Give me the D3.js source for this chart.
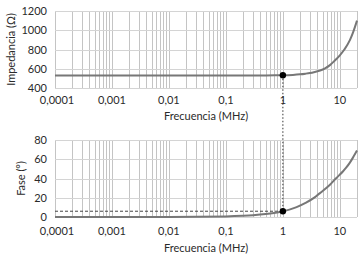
<!DOCTYPE html>
<html><head><meta charset="utf-8">
<script src="https://cdn.jsdelivr.net/npm/d3@7"></script>
<style>body{margin:0;background:#fff;}svg{display:block;font-family:Lato,"Open Sans",sans-serif;}</style>
</head><body>
<svg id="c" width="363" height="255"></svg>
<script>
// Data
const freqMHz = [0.0001, 0.001, 0.01, 0.1, 0.5, 1, 1.5, 2, 2.5, 3, 3.5, 4.5, 5.5, 6.7, 8, 10, 12, 15, 17, 20];
const impedance = [530, 530, 530, 530, 531, 532, 536, 542, 549, 556, 564, 582, 605, 638, 680, 740, 800, 897, 975, 1100];
const phaseFreq = [0.0001, 0.001, 0.01, 0.1, 0.2, 0.3, 0.5, 0.7, 1, 1.3, 1.74, 2.5, 3.4, 4.2, 5, 6.7, 8.5, 11.4, 13, 15, 17.5, 20];
const phase = [0, 0, 0.1, 0.6, 1.2, 1.8, 3, 4.2, 6, 7.7, 10.3, 14.7, 19.3, 23.5, 27, 33.5, 40, 47.5, 51.5, 56.5, 63, 69];
const markerFreq = 1;
const markerZ = 532;
const markerPhase = 6;
const xTickVals = [0.0001, 0.001, 0.01, 0.1, 1, 10];
const xTickLabels = ["0,0001", "0,001", "0,01", "0,1", "1", "10"];
const zTicks = [400, 600, 800, 1000, 1200];
const phTicks = [0, 20, 40, 60, 80];

const svg = d3.select("#c");
const x = d3.scaleLog().domain([0.0001, 20]).range([55, 357]);
const yZ = d3.scaleLinear().domain([400, 1200]).range([88, 11]);
const yP = d3.scaleLinear().domain([0, 80]).range([217, 140]);

// minor grid values
const minor = [];
for (let e = -4; e <= 1; e++) for (let m = 1; m <= 9; m++) { const v = m * Math.pow(10, e); if (v <= 20.0001) minor.push(v); }
minor.push(20);

function panel(y, yTicks, title, titleX, xTitleY, xLabelY) {
  const g = svg.append("g");
  const [y0, y1] = y.range();
  g.selectAll(".vg").data(minor).join("line")
    .attr("x1", d => Math.round(x(d)) + 0.5).attr("x2", d => Math.round(x(d)) + 0.5)
    .attr("y1", y1).attr("y2", y0).attr("stroke", "#c4c4c4").attr("stroke-width", 1);
  g.selectAll(".hg").data(yTicks).join("line")
    .attr("x1", x.range()[0]).attr("x2", x.range()[1])
    .attr("y1", d => Math.round(y(d)) + 0.5).attr("y2", d => Math.round(y(d)) + 0.5)
    .attr("stroke", "#d4d4d4").attr("stroke-width", 1);
  g.selectAll(".yl").data(yTicks).join("text")
    .attr("x", 47).attr("y", d => y(d) + 4).attr("text-anchor", "end")
    .attr("font-size", 11).attr("fill", "#2a2a2a").text(d => d);
  g.selectAll(".xl").data(xTickVals).join("text")
    .attr("x", (d, i) => x(d) + (i === 0 ? 2 : 0)).attr("y", xLabelY).attr("text-anchor", "middle")
    .attr("font-size", 11).attr("fill", "#2a2a2a").text((d, i) => xTickLabels[i]);
  g.append("text").attr("x", 206).attr("y", xTitleY).attr("text-anchor", "middle")
    .attr("font-size", 11).attr("fill", "#2a2a2a").text("Frecuencia (MHz)");
  g.append("text").attr("transform", `translate(${titleX},${(y0 + y1) / 2}) rotate(-90)`)
    .attr("text-anchor", "middle").attr("font-size", 11).attr("fill", "#2a2a2a").text(title);
  return g;
}

panel(yZ, zTicks, "Impedancia (Ω)", 15, 120, 104);
panel(yP, phTicks, "Fase (°)", 25, 252, 235);

// dotted guides
svg.append("line").attr("x1", x(markerFreq)).attr("x2", x(markerFreq))
  .attr("y1", yZ(markerZ)).attr("y2", yP(markerPhase))
  .attr("stroke", "#333").attr("stroke-width", 1).attr("stroke-dasharray", "1.5,2");
svg.append("line").attr("x1", x.range()[0]).attr("x2", x(markerFreq))
  .attr("y1", yP(markerPhase)).attr("y2", yP(markerPhase))
  .attr("stroke", "#444").attr("stroke-width", 1).attr("stroke-dasharray", "3,2");

const lineZ = d3.line().x((d, i) => x(freqMHz[i])).y(d => yZ(d)).curve(d3.curveMonotoneX);
svg.append("path").attr("d", lineZ(impedance)).attr("fill", "none").attr("stroke", "#777").attr("stroke-width", 2);
const lineP = d3.line().x((d, i) => x(phaseFreq[i])).y(d => yP(d)).curve(d3.curveMonotoneX);
svg.append("path").attr("d", lineP(phase)).attr("fill", "none").attr("stroke", "#777").attr("stroke-width", 2);

svg.append("circle").attr("cx", x(markerFreq)).attr("cy", yZ(markerZ)).attr("r", 3.2).attr("fill", "#000");
svg.append("circle").attr("cx", x(markerFreq)).attr("cy", yP(markerPhase)).attr("r", 3.2).attr("fill", "#000");
</script>
</body></html>
